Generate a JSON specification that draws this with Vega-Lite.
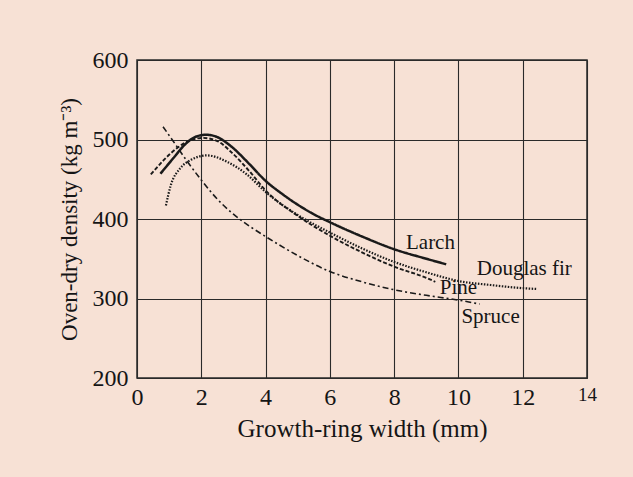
{
  "$schema": "https://vega.github.io/schema/vega-lite/v6.json",
  "autosize": "none",
  "width": 450,
  "height": 318,
  "padding": {"left": 137, "top": 60, "right": 46, "bottom": 99},
  "background": "#f7e1d5",
  "config": {
    "view": {"stroke": "#2a2a2a", "strokeWidth": 1.5},
    "font": "Liberation Serif",
    "axis": {
      "labelFont": "Liberation Serif",
      "titleFont": "Liberation Serif",
      "labelColor": "#151515",
      "titleColor": "#151515",
      "titleFontWeight": "normal",
      "domainColor": "#2a2a2a",
      "gridColor": "#2a2a2a",
      "gridOpacity": 1,
      "gridWidth": 1.1,
      "ticks": false
    }
  },
  "datasets": {
    "curves": [
      {"species": "Larch", "x": 0.73, "y": 457},
      {"species": "Larch", "x": 1.14, "y": 477},
      {"species": "Larch", "x": 1.5, "y": 494},
      {"species": "Larch", "x": 1.8, "y": 503},
      {"species": "Larch", "x": 2.15, "y": 506},
      {"species": "Larch", "x": 2.5, "y": 503},
      {"species": "Larch", "x": 2.91, "y": 492},
      {"species": "Larch", "x": 3.5, "y": 469},
      {"species": "Larch", "x": 4, "y": 448},
      {"species": "Larch", "x": 4.5, "y": 432},
      {"species": "Larch", "x": 5, "y": 418},
      {"species": "Larch", "x": 5.5, "y": 406},
      {"species": "Larch", "x": 6, "y": 396},
      {"species": "Larch", "x": 7, "y": 378},
      {"species": "Larch", "x": 8, "y": 362},
      {"species": "Larch", "x": 9, "y": 350},
      {"species": "Larch", "x": 9.62, "y": 343},
      {"species": "Douglas fir", "x": 0.9, "y": 417},
      {"species": "Douglas fir", "x": 1.04, "y": 441},
      {"species": "Douglas fir", "x": 1.35, "y": 464},
      {"species": "Douglas fir", "x": 1.66, "y": 474},
      {"species": "Douglas fir", "x": 2.18, "y": 480},
      {"species": "Douglas fir", "x": 2.8, "y": 472},
      {"species": "Douglas fir", "x": 3.42, "y": 456},
      {"species": "Douglas fir", "x": 4, "y": 434},
      {"species": "Douglas fir", "x": 5, "y": 405},
      {"species": "Douglas fir", "x": 6, "y": 383},
      {"species": "Douglas fir", "x": 7, "y": 363},
      {"species": "Douglas fir", "x": 8, "y": 346},
      {"species": "Douglas fir", "x": 9, "y": 333},
      {"species": "Douglas fir", "x": 10, "y": 322},
      {"species": "Douglas fir", "x": 11, "y": 317},
      {"species": "Douglas fir", "x": 12, "y": 313},
      {"species": "Douglas fir", "x": 12.43, "y": 312},
      {"species": "Pine", "x": 0.43, "y": 456},
      {"species": "Pine", "x": 0.83, "y": 474},
      {"species": "Pine", "x": 1.24, "y": 489},
      {"species": "Pine", "x": 1.6, "y": 498},
      {"species": "Pine", "x": 2.05, "y": 502},
      {"species": "Pine", "x": 2.5, "y": 498},
      {"species": "Pine", "x": 2.91, "y": 485},
      {"species": "Pine", "x": 3.5, "y": 460},
      {"species": "Pine", "x": 4, "y": 436},
      {"species": "Pine", "x": 5, "y": 404},
      {"species": "Pine", "x": 6, "y": 379},
      {"species": "Pine", "x": 7, "y": 358},
      {"species": "Pine", "x": 8, "y": 340},
      {"species": "Pine", "x": 9, "y": 326},
      {"species": "Pine", "x": 9.28, "y": 321},
      {"species": "Spruce", "x": 0.81, "y": 516},
      {"species": "Spruce", "x": 1.09, "y": 500},
      {"species": "Spruce", "x": 1.5, "y": 476},
      {"species": "Spruce", "x": 2, "y": 449},
      {"species": "Spruce", "x": 2.5, "y": 425},
      {"species": "Spruce", "x": 3, "y": 406},
      {"species": "Spruce", "x": 3.5, "y": 391},
      {"species": "Spruce", "x": 4, "y": 378},
      {"species": "Spruce", "x": 5, "y": 354},
      {"species": "Spruce", "x": 6, "y": 334},
      {"species": "Spruce", "x": 7, "y": 321},
      {"species": "Spruce", "x": 8, "y": 311},
      {"species": "Spruce", "x": 9, "y": 304},
      {"species": "Spruce", "x": 10, "y": 298},
      {"species": "Spruce", "x": 10.66, "y": 293}
    ],
    "labels": [
      {"label": "Larch", "x": 9.13, "y": 370},
      {"label": "Douglas fir", "x": 12.05, "y": 337},
      {"label": "Pine", "x": 10.0, "y": 313},
      {"label": "Spruce", "x": 11.0, "y": 277}
    ]
  },
  "layer": [
    {
      "data": {"name": "curves"},
      "mark": {"type": "line", "interpolate": "monotone", "color": "#1a1a1a", "clip": true},
      "encoding": {
        "x": {
          "field": "x", "type": "quantitative",
          "scale": {"domain": [0, 14], "nice": false},
          "axis": {
            "values": [0, 2, 4, 6, 8, 10, 12, 14],
            "title": "Growth-ring width (mm)",
            "titleFontSize": 25,
            "titlePadding": 7,
            "labelFontSize": {"condition": {"test": "datum.value == 14", "value": 19}, "value": 24},
            "labelPadding": 7,
            "grid": true,
            "labelFlush": false
          }
        },
        "y": {
          "field": "y", "type": "quantitative",
          "scale": {"domain": [200, 600], "nice": false, "zero": false},
          "axis": {
            "values": [200, 300, 400, 500, 600],
            "title": "Oven-dry density (kg m⁻³)",
            "titleFontSize": 23,
            "titlePadding": 11,
            "labelFontSize": 24,
            "labelPadding": 9,
            "grid": true
          }
        },
        "detail": {"field": "species"},
        "strokeDash": {
          "field": "species", "type": "nominal",
          "scale": {
            "domain": ["Larch", "Douglas fir", "Pine", "Spruce"],
            "range": [[1, 0], [1.5, 1.5], [4, 2], [6, 3, 2, 3]]
          },
          "legend": null
        },
        "strokeWidth": {
          "field": "species", "type": "nominal",
          "scale": {
            "domain": ["Larch", "Douglas fir", "Pine", "Spruce"],
            "range": [2.5, 1.6, 2.2, 2.2]
          },
          "legend": null
        }
      }
    },
    {
      "data": {"name": "labels"},
      "mark": {"type": "text", "font": "Liberation Serif", "fontSize": 21, "color": "#151515", "align": "center", "baseline": "middle"},
      "encoding": {
        "x": {"field": "x", "type": "quantitative"},
        "y": {"field": "y", "type": "quantitative"},
        "text": {"field": "label"}
      }
    }
  ]
}
